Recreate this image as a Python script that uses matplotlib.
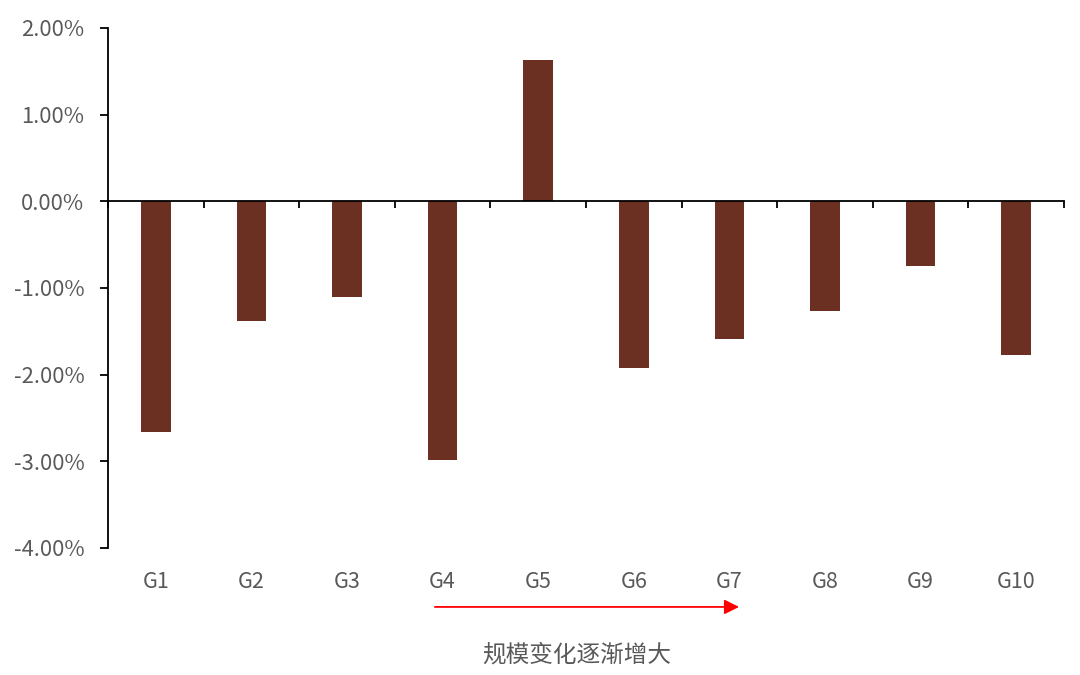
import numpy as np
import matplotlib.pyplot as plt
from matplotlib.ticker import PercentFormatter

plt.rcParams['font.family'] = ['Noto Sans CJK SC', 'DejaVu Sans']
plt.rcParams['axes.unicode_minus'] = False

groups = ['G1', 'G2', 'G3', 'G4', 'G5', 'G6', 'G7', 'G8', 'G9', 'G10']
values = [-2.66, -1.38, -1.10, -2.98, 1.63, -1.92, -1.59, -1.26, -0.75, -1.77]
y_ticks = [2, 1, 0, -1, -2, -3, -4]
x_title = '规模变化逐渐增大'

bar_color = '#6B3022'
text_color = '#595959'

fig = plt.figure(figsize=(10.8, 6.75), dpi=100)
ax = fig.add_axes([108 / 1080, 1 - 548 / 675, (1064 - 108) / 1080, (548 - 28) / 675])

x = np.arange(len(groups))
ax.bar(x, values, width=0.31, color=bar_color, zorder=2)

ax.set_xlim(-0.5, len(groups) - 0.5)
ax.set_ylim(-4, 2)
ax.set_yticks(y_ticks)
ax.yaxis.set_major_formatter(PercentFormatter(decimals=2))

for s in ['top', 'right']:
    ax.spines[s].set_visible(False)
ax.spines['bottom'].set_position(('data', 0))
ax.spines['left'].set_linewidth(1.3)
ax.spines['bottom'].set_linewidth(1.3)

ax.set_xticks(x)
ax.set_xticklabels(groups)
ax.set_xticks(np.arange(len(groups) + 1) - 0.5, minor=True)
ax.tick_params(axis='x', which='major', length=0, pad=266, labelsize=15.5, labelcolor=text_color)
ax.tick_params(axis='x', which='minor', length=5, width=1.3, direction='out')
ax.tick_params(axis='y', length=6, width=1.3, labelsize=15.8, labelcolor=text_color, pad=11)

# arrow under the group labels
ax.annotate('', xy=(6.13, -4.68), xytext=(2.89, -4.68),
            xycoords='data', annotation_clip=False,
            arrowprops=dict(arrowstyle='-|>', color='red', lw=1.3, mutation_scale=22))
ax.text(4.4, -5.23, x_title, ha='center', va='center', fontsize=17,
        color=text_color, clip_on=False)

fig.savefig('out.png', dpi=100)
